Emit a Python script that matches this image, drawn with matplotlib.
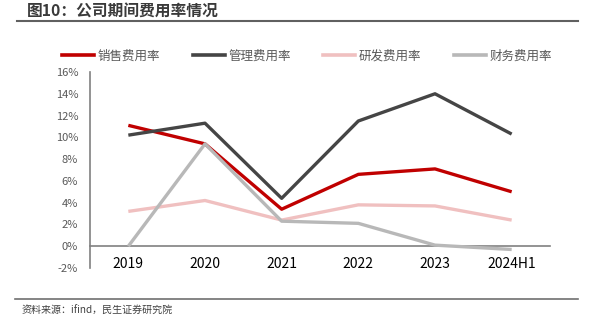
import numpy as np
import matplotlib.pyplot as plt
from matplotlib.lines import Line2D

plt.rcParams['font.family'] = ['Noto Sans CJK SC', 'DejaVu Sans']

# --- data ---
years = ["2019", "2020", "2021", "2022", "2023", "2024H1"]
sales = [11.1, 9.4, 3.4, 6.6, 7.1, 5.0]        # 销售费用率
admin = [10.2, 11.3, 4.4, 11.5, 14.0, 10.3]    # 管理费用率
rnd = [3.2, 4.2, 2.4, 3.8, 3.7, 2.4]           # 研发费用率
fin = [0.0, 9.4, 2.3, 2.1, 0.1, -0.3]          # 财务费用率

names = ["销售费用率", "管理费用率", "研发费用率", "财务费用率"]
colors = ["#C00000", "#454545", "#F0C0C0", "#B8B8B8"]

fig = plt.figure(figsize=(5.95, 3.29), dpi=100)
ax = fig.add_axes([90/595, 1-268/329, 460/595, 196/329])

x = np.arange(len(years))
for vals, c in zip([sales, admin, rnd, fin], colors):
    ax.plot(x, vals, color=c, lw=2.4, solid_capstyle="butt", zorder=3)

ax.set_xlim(-0.5, len(years) - 0.5)
ax.set_ylim(-2, 16)
ax.set_yticks(np.arange(-2, 17, 2))
ax.set_yticklabels([f"{v}%" for v in range(-2, 17, 2)], fontsize=8, color="#595959")
ax.set_xticks(x)
ax.set_xticklabels(years, fontsize=7.2, color="#595959")
ax.tick_params(axis="both", length=0)
ax.tick_params(axis="x", pad=7.5)
ax.tick_params(axis="y", pad=8.5)

for s in ["top", "right"]:
    ax.spines[s].set_visible(False)
ax.spines["bottom"].set_position(("data", 0))
ax.spines["bottom"].set_color("#808080")
ax.spines["bottom"].set_linewidth(1.2)
ax.spines["left"].set_color("#808080")
ax.spines["left"].set_linewidth(1.2)

# legend
handles = [Line2D([], [], color=c, lw=2.6) for c in colors]
fig.legend(handles, names, loc="center left", bbox_to_anchor=(62/595, 1-56/329),
           ncol=4, frameon=False, fontsize=9, handlelength=2.55, handletextpad=0.3,
           columnspacing=2.6, borderpad=0, borderaxespad=0, labelcolor="#595959")

# title and rules
fig.text(27/595, 1-12/329, "图10：公司期间费用率情况", fontsize=11.3, fontweight="bold",
         color="#3A3A3A", va="center", ha="left")
fig.add_artist(Line2D([17/595, 578/595], [1-21/329, 1-21/329], color="#606060", lw=1.5))
fig.add_artist(Line2D([15/595, 578/595], [1-299/329, 1-299/329], color="#707070", lw=1.2))
fig.text(22/595, 1-311/329, "资料来源：ifind，民生证券研究院", fontsize=7.2,
         color="#404040", va="center", ha="left")

fig.savefig("out.png", dpi=100)
